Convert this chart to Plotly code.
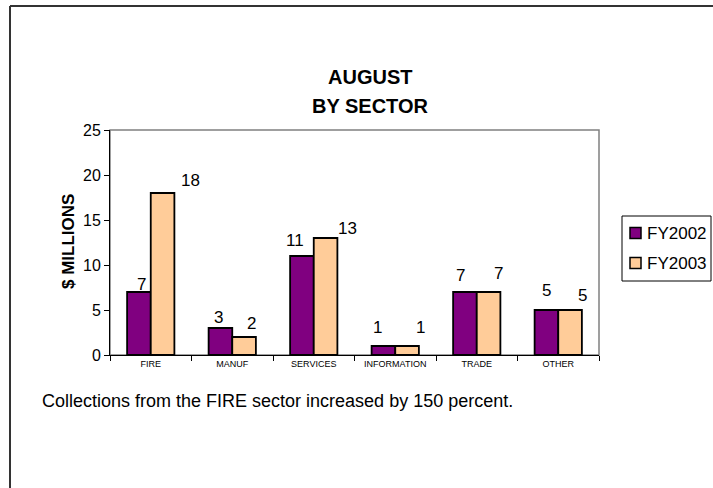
import plotly.graph_objects as go

categories = ["FIRE", "MANUF", "SERVICES", "INFORMATION", "TRADE", "OTHER"]
fy2002 = [7, 3, 11, 1, 7, 5]
fy2003 = [18, 2, 13, 1, 7, 5]
series_names = ["FY2002", "FY2003"]
y_ticks = [0, 5, 10, 15, 20, 25]

W, H = 713, 488
L, R, T, B = 110, 599, 130, 355
pw, ph = R - L, B - T

def px(x):
    return (x - L) / pw

def py(y):
    return (B - y) / ph

colors = ["#800080", "#FFCC99"]
font = "Liberation Sans, Arial, sans-serif"

fig = go.Figure()
for name, vals, c in zip(series_names, [fy2002, fy2003], colors):
    fig.add_trace(go.Bar(
        x=categories, y=vals, name=name,
        marker=dict(color=c, line=dict(color="black", width=1.8)),
    ))

# label offsets (dx, dy) in pixels, per series
off2002 = [(2, 8), (-2, 11), (-7, 16), (-6, 19), (-5, 17), (0, 20)]
off2003 = [(28, 13), (7, 14), (22, 10), (13, 19), (10, 19), (12, 15)]
half = 11.75
annotations = []
for vals, offs, sgn in [(fy2002, off2002, -1), (fy2003, off2003, 1)]:
    for cat, v, (dx, dy) in zip(categories, vals, offs):
        annotations.append(dict(
            x=cat, y=v, xref="x", yref="y", text=str(v), showarrow=False,
            xanchor="center", yanchor="middle",
            xshift=sgn * half + dx, yshift=dy,
            font=dict(size=17, color="black", family=font),
        ))

annotations.append(dict(
    x=px(68), y=py(242), xref="paper", yref="paper", text="<b>$ MILLIONS</b>",
    textangle=-90, showarrow=False, xanchor="center", yanchor="middle",
    font=dict(size=17, color="black", family=font),
))
annotations.append(dict(
    x=px(40), y=py(401), xref="paper", yref="paper",
    text="Collections from the FIRE sector increased by 150 percent.",
    showarrow=False, xanchor="left", yanchor="middle",
    font=dict(size=18, color="black", family=font),
))
annotations.append(dict(
    x=px(370), y=py(77), xref="paper", yref="paper", text="<b>AUGUST</b>",
    showarrow=False, xanchor="center", yanchor="middle",
    font=dict(size=20, color="black", family=font),
))
annotations.append(dict(
    x=px(370), y=py(106), xref="paper", yref="paper", text="<b>BY SECTOR</b>",
    showarrow=False, xanchor="center", yanchor="middle",
    font=dict(size=20, color="black", family=font),
))

shapes = [
    dict(type="rect", xref="paper", yref="paper", x0=0, y0=0, x1=1, y1=1,
         line=dict(color="#808080", width=1.5), layer="below"),
    dict(type="line", xref="paper", yref="paper", x0=px(10), y0=py(6), x1=px(10), y1=py(490),
         line=dict(color="#333333", width=2)),
    dict(type="line", xref="paper", yref="paper", x0=px(10), y0=py(6), x1=px(715), y1=py(6),
         line=dict(color="#333333", width=2)),
    # legend box
    dict(type="rect", xref="paper", yref="paper", x0=px(622), y0=py(281), x1=px(711), y1=py(216),
         line=dict(color="black", width=1), fillcolor="white"),
]
# legend items
for i, (name, c) in enumerate(zip(series_names, colors)):
    yc = 233 + 30 * i
    shapes.append(dict(type="rect", xref="paper", yref="paper",
                       x0=px(630), x1=px(641), y0=py(yc + 5.5), y1=py(yc - 5.5),
                       fillcolor=c, line=dict(color="black", width=1.5)))
    annotations.append(dict(x=px(645), y=py(yc), xref="paper", yref="paper", text=name,
                            showarrow=False, xanchor="left", yanchor="middle",
                            font=dict(size=17, color="black", family=font)))

fig.update_layout(
    width=W, height=H,
    margin=dict(l=L, r=W - R, t=T, b=H - B, pad=0, autoexpand=False),
    paper_bgcolor="white", plot_bgcolor="white",
    barmode="group", bargap=0.42, bargroupgap=0,
    showlegend=False,
    annotations=annotations, shapes=shapes,
    font=dict(family=font, color="black"),
)
fig.update_xaxes(
    type="category", showline=True, linecolor="black", linewidth=1,
    ticks="outside", ticklen=5, tickcolor="black", tickson="boundaries",
    tickfont=dict(size=9, color="black", family=font), showgrid=False,
)
fig.update_yaxes(
    range=[0, 25], tickvals=y_ticks, showline=True, linecolor="black", linewidth=1,
    ticks="outside", ticklen=5, tickcolor="black",
    tickfont=dict(size=16, color="black", family=font), showgrid=False, zeroline=False,
)

fig.write_html("out.html", config={"displayModeBar": False},
               post_script="document.body.style.margin='0';document.body.style.overflow='hidden';")
